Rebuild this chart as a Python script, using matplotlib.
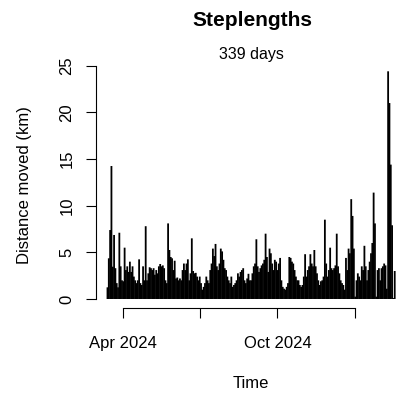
import pandas as pd
import matplotlib.pyplot as plt
import matplotlib.dates as mdates

plt.rcParams['font.family'] = ['Liberation Sans', 'DejaVu Sans']

# Step lengths (km) left to right, one fix every ~1.6 days
steps = [
    1.25, 4.36, 7.39, 14.25, 3.46, 6.86, 3.3, 1.7, 1.25, 7.1,
    3.5, 2.0, 1.9, 5.5, 3.1, 3.5, 2.9, 4.0, 2.9, 3.5,
    2.4, 2.0, 1.7, 2.0, 4.25, 1.7, 1.5, 3.5, 2.0, 7.8,
    2.0, 2.75, 3.4, 3.3, 3.1, 3.3, 2.6, 3.1, 2.75, 3.5,
    3.75, 3.5, 3.6, 3.3, 2.0, 1.7, 8.1, 5.25, 4.5, 4.36,
    3.1, 4.1, 2.2, 2.3, 2.0, 2.2, 2.0, 3.1, 3.8, 3.1,
    3.8, 4.25, 2.0, 2.75, 6.5, 3.0, 2.75, 2.8, 2.4, 2.0,
    2.4, 1.7, 1.0, 1.3, 1.7, 2.4, 2.0, 1.7, 3.1, 3.8,
    5.4, 4.6, 5.9, 3.5, 3.1, 3.8, 5.4, 5.1, 4.2, 3.3,
    3.1, 2.4, 2.0, 1.7, 2.4, 1.3, 1.5, 1.7, 2.0, 2.75,
    2.4, 2.9, 3.1,
    3.3, 2.0, 1.7, 2.2, 2.7, 2.0, 2.0, 2.75, 3.5, 3.8,
    6.4, 3.5, 2.9, 3.3, 3.6, 3.8, 4.2, 7.0, 4.5, 2.9,
    5.4, 4.9, 3.8, 3.1, 4.2, 4.0, 3.1, 3.8, 4.4, 2.0,
    1.3, 1.1, 1.0, 1.3, 1.7, 4.5, 4.4, 4.0, 3.8, 3.1,
    2.4, 2.0, 2.0, 1.5, 1.3, 1.5, 2.4, 4.8, 2.4, 3.1,
    3.5, 4.8, 3.8, 3.5, 5.25, 3.5, 2.75, 2.0, 1.5, 1.9,
    2.0, 2.4, 8.5, 3.8, 2.4, 3.1, 5.5, 3.3, 3.1, 3.3,
    3.6, 7.0, 3.5, 2.75, 2.0, 1.7, 1.5, 1.0, 4.4, 3.1,
    5.4, 4.9, 10.7, 8.9, 5.4, 0.25, 2.0, 2.75, 2.4, 2.0,
    3.5, 3.1, 5.7, 3.5, 2.0, 3.1, 4.0, 4.9, 6.0, 11.4,
    8.1, 0.25, 3.1, 3.3, 2.0, 3.3, 3.5, 3.8, 3.6, 1.1,
    24.4, 21.0, 14.4, 7.9, 0.1, 3.0,
]
start, end = "2024-03-13 18:00", "2025-02-16 18:00"
times = pd.date_range(start, end, periods=len(steps))

tick_dates = pd.to_datetime(["2024-04-01", "2024-07-01", "2024-10-01", "2025-01-01"])
tick_labels = ["Apr 2024", "", "Oct 2024", ""]
y_ticks = [0, 5, 10, 15, 20, 25]

fig = plt.figure(figsize=(4.06, 3.98), dpi=100)
ax = fig.add_axes([96 / 406, 1 - 308.1 / 398, 310.2 / 406, 245.9 / 398])

ax.vlines(times, 0, steps, color='black', lw=1.3, snap=False)

# R-style 4% padding on both axes
span = times[-1] - times[0]
ax.set_xlim(times[0] - 0.04 * span, times[-1] + 0.04 * span)
ymax = max(steps)
ax.set_ylim(-0.04 * ymax, 1.04 * ymax)

# detached R-style axes
for s in ['top', 'right']:
    ax.spines[s].set_visible(False)
ax.spines['left'].set_bounds(0, 25)
ax.spines['bottom'].set_bounds(mdates.date2num(tick_dates[0]), mdates.date2num(tick_dates[-1]))
for s in ['left', 'bottom']:
    ax.spines[s].set_linewidth(0.8)

ax.set_xticks(tick_dates)
ax.set_xticklabels(tick_labels)
ax.set_yticks(y_ticks)
ax.set_yticklabels([str(v) for v in y_ticks], rotation=90, va='center')
ax.tick_params(axis='both', length=7.5, width=0.8, labelsize=12)
ax.tick_params(axis='x', pad=12.5)
ax.tick_params(axis='y', pad=8)

fig.text(252 / 406, 1 - 21 / 398, "Steplengths", fontsize=15, fontweight='bold',
         ha='center', va='center')
fig.text(251 / 406, 1 - 54 / 398, "339 days", fontsize=11.5, ha='center', va='center')
fig.text(251 / 406, 1 - 384 / 398, "Time", fontsize=12, ha='center', va='center')
fig.text(25 / 406, 1 - 185 / 398, "Distance moved (km)", fontsize=12, rotation=90,
         ha='center', va='center')

fig.savefig('out.png', dpi=100)
